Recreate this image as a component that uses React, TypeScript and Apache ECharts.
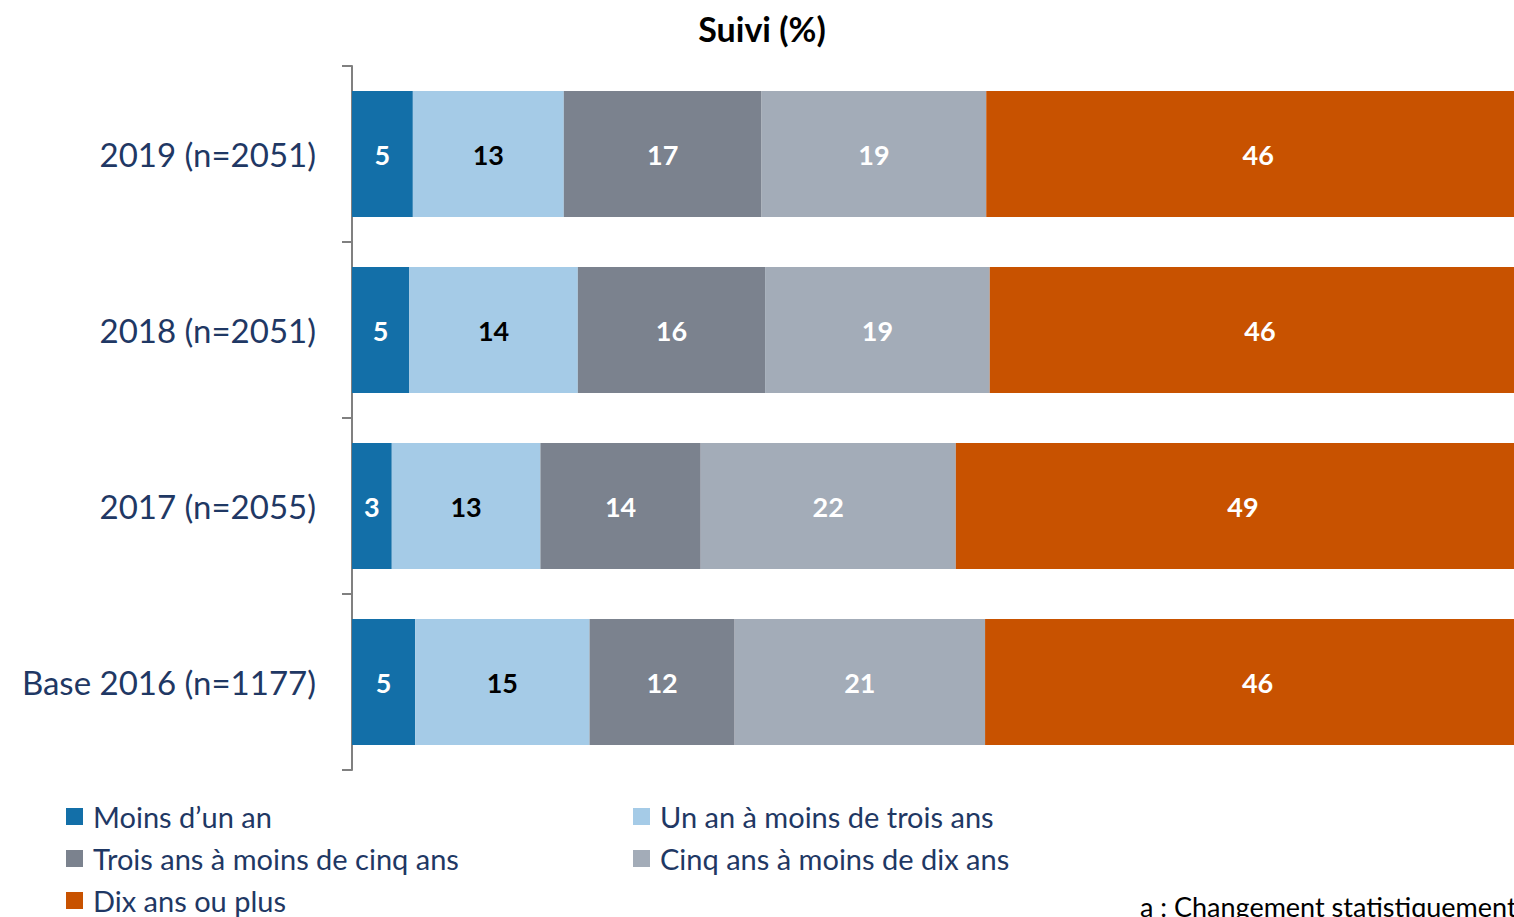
import React, { useEffect, useRef } from "react";
import * as echarts from "echarts";

const categories = ["2019 (n=2051)", "2018 (n=2051)", "2017 (n=2055)", "Base 2016 (n=1177)"];
const seriesNames = [
  "Moins d’un an",
  "Un an à moins de trois ans",
  "Trois ans à moins de cinq ans",
  "Cinq ans à moins de dix ans",
  "Dix ans ou plus",
];
const moinsUnAn = [5.2, 4.9, 3.4, 5.4];
const unATrois = [12.9, 14.4, 12.7, 14.9];
const troisACinq = [16.9, 16.0, 13.7, 12.4];
const cinqADix = [19.2, 19.2, 21.8, 21.4];
const dixPlus = [45.8, 45.5, 48.6, 45.9];
const colors = ["#136fa8", "#a5cbe7", "#7b828e", "#a3acb8", "#c85200"];
const labelColors = ["#ffffff", "#000000", "#ffffff", "#ffffff", "#ffffff"];
// legend placement: [left, top] per series
const legendPos: [number, number][] = [
  [66, 802],
  [633, 802],
  [66, 844],
  [633, 844],
  [66, 886],
];

const FONT = "Lato, 'Noto Sans', sans-serif";
const NAVY = "#1f3864";

export default function App() {
  const ref = useRef<HTMLDivElement>(null);
  useEffect(() => {
    if (!ref.current) return;
    const chart = echarts.init(ref.current, null, { renderer: "svg" });
    const data = [moinsUnAn, unATrois, troisACinq, cinqADix, dixPlus];
    chart.setOption({
      animation: false,
      textStyle: { fontFamily: FONT },
      title: {
        text: "Suivi (%)",
        left: 757,
        textAlign: "center",
        top: 6,
        textStyle: { fontFamily: FONT, fontWeight: "bold", fontSize: 34, color: "#000" },
      },
      grid: { left: 352, top: 66, height: 704, right: 0, containLabel: false },
      xAxis: { type: "value", min: 0, max: 99.3, show: false },
      yAxis: {
        type: "category",
        data: categories,
        inverse: true,
        axisLine: { show: true, lineStyle: { color: "#808080", width: 2 } },
        axisTick: { show: true, length: 10, inside: false, lineStyle: { color: "#808080", width: 2 } },
        axisLabel: { margin: 36, fontSize: 33, color: NAVY, fontFamily: FONT },
      },
      legend: seriesNames.map((n, i) => ({
        left: legendPos[i][0],
        top: legendPos[i][1],
        padding: 0,
        itemWidth: 17,
        itemHeight: 17,
        icon: "rect",
        data: [n],
        textStyle: { fontSize: 29, color: NAVY, fontFamily: FONT, padding: [0, 0, 0, 5] },
      })),
      graphic: [
        {
          type: "text",
          left: 1140,
          top: 893,
          style: { text: "a : Changement statistiquement significatif", fontSize: 27, fill: "#000", fontFamily: FONT },
        },
      ],
      series: data.map((vals, i) => ({
        name: seriesNames[i],
        type: "bar",
        stack: "total",
        barWidth: 126,
        clip: true,
        data: vals,
        itemStyle: { color: colors[i] },
        label: {
          show: true,
          position: "inside",
          offset: i === 4 ? [8, 0] : [0, 0],
          color: labelColors[i],
          fontWeight: "bold",
          fontSize: 27,
          fontFamily: FONT,
          formatter: (p: any) => String(Math.round(p.value)),
        },
      })),
    });
    return () => chart.dispose();
  }, []);
  return <div ref={ref} style={{ width: 1514, height: 917, position: "absolute", left: 0, top: 0 }} />;
}
